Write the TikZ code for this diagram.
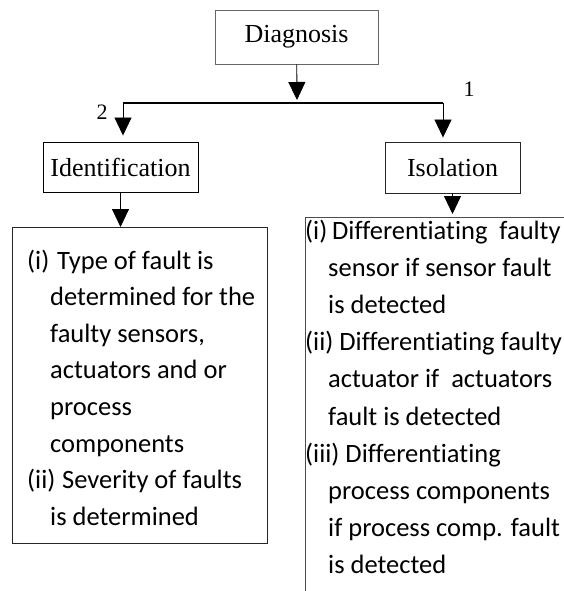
\documentclass[tikz,border=0pt]{standalone}
\usepackage{fontspec}
\setmainfont{Liberation Serif}
\newfontfamily\bodyfont[Ligatures=NoCommon]{Carlito}
\usetikzlibrary{arrows.meta}
\begin{document}
\begin{tikzpicture}[x=1pt,y=-1pt,
  headbox/.style={draw=#1, line width=0.9pt, inner sep=0pt,
    font=\fontsize{26}{30}\selectfont},
  listbox/.style={draw=#1, line width=0.9pt, inner sep=0pt, anchor=north west},
  listtext/.style={inner sep=0pt, anchor=base west, align=left,
    font=\bodyfont\fontsize{26.5}{#1}\selectfont},
  numlabel/.style={inner sep=0pt, font=\fontsize{22}{24}\selectfont},
  flow/.style={line width=0.9pt, -{Triangle[length=18pt,width=17pt]}},
  bus/.style={line width=2pt}]
\useasboundingbox (0,0) rectangle (564,591);
\fill[white] (0,0) rectangle (564,591);

% top level and the two branches
\node[headbox=black!60, minimum width=163pt, minimum height=54pt] (diag) at (296.5,37) {Diagnosis};
\node[headbox=black, minimum width=155pt, minimum height=50pt] (ident) at (120.5,167) {Identification};
\node[headbox=black!85, minimum width=135pt, minimum height=51pt] (isol) at (452.5,167.5) {Isolation};

% branching bus
\coordinate (jc) at (297,103);
\coordinate (jl) at (123,103);
\coordinate (jr) at (443,103);
\draw[bus] (jl) -- (jr);
\draw[flow] (diag) -- ([yshift=3pt]jc);
\draw[flow, shorten >=6pt] (jl) -- (jl |- ident.north);
\draw[flow, shorten >=4pt] (jr) -- (jr |- isol.north);
\node[numlabel] (n2) at (102,112) {2};
\node[numlabel] (n1) at (469,89) {1};

% detail boxes
\node[listbox=black!85, minimum width=255pt, minimum height=316pt] (idbox) at (12,227) {};
\node[listbox=black!70, minimum width=300pt, minimum height=420pt] (isbox) at (305,217) {};

\draw[flow] (ident) -- (idbox.north -| ident.south);
\draw[flow] (isol.south) -- ([yshift=3pt]isol.south |- isbox.north);

% the text blocks are anchored at the baseline of their last line
\node[listtext=36.6pt] (idtext) at (27,525.2) {%
\makebox[30pt][l]{(i)}Type of fault is\\
\hspace*{23pt}determined for the\\
\hspace*{23pt}faulty sensors,\\
\hspace*{23pt}actuators and or\\
\hspace*{23pt}process\\
\hspace*{23pt}components\\
\makebox[35pt][l]{(ii)}Severity of faults\\
\hspace*{23pt}is determined};

\node[listtext=37.2pt] (istext) at (305,573.8) {%
\makebox[27pt][l]{(i)}Differentiating\ \ faulty\\
\hspace*{23pt}sensor if sensor fault\\
\hspace*{23pt}is detected\\
(ii) Differentiating faulty\\
\hspace*{23pt}actuator if\ \ actuators\\
\hspace*{23pt}fault is detected\\
(iii) Differentiating\\
\hspace*{23pt}process components\\
\hspace*{23pt}if process comp. fault\\
\hspace*{23pt}is detected};
\end{tikzpicture}
\end{document}
